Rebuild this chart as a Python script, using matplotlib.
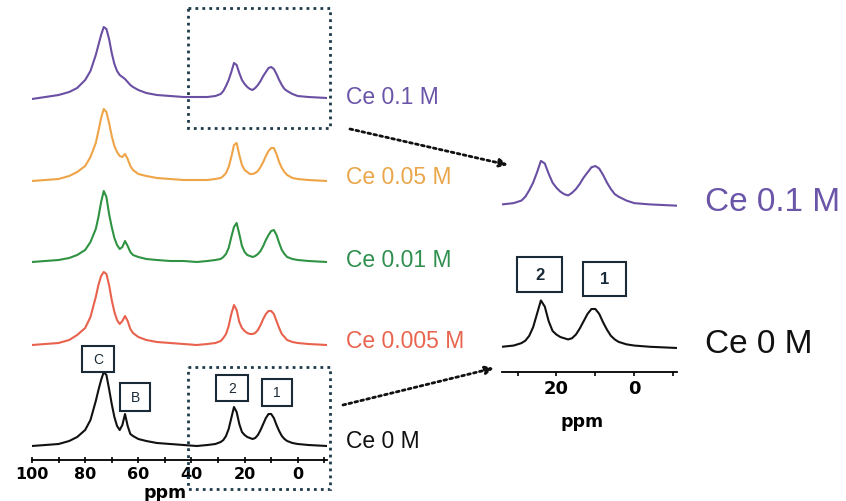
import numpy as np
import matplotlib
matplotlib.use('Agg')
import matplotlib.pyplot as plt
from matplotlib.patches import Rectangle

# chemical shift grid (ppm) shared by all spectra
ppm = [100, 95, 90, 86, 83, 80, 78, 76, 75, 74, 73, 72, 71, 70, 69, 68, 67, 66,
       65, 64, 63, 62, 60, 57, 53, 48, 43, 38, 34, 31, 29, 28, 27, 26, 25, 24,
       23, 22, 21, 20, 19, 18, 17, 16, 15, 14, 13, 12, 11, 10, 9, 8, 7, 6, 5,
       4, 2, 0, -4, -11]

# intensities (arbitrary units)
ce_0 = [0, 1, 2, 5, 9, 16, 26, 45, 56, 66, 74, 71, 57, 42, 29, 20, 16, 21,
        32, 20, 12, 10, 7, 5, 3, 2, 1, 0, 1, 2, 4, 6, 10, 17, 28, 39,
        34, 22, 14, 11, 9, 8, 7, 8, 11, 16, 22, 28, 32, 32, 28, 21, 15, 10, 7,
        5, 3, 2, 1, 0]
ce_0005 = [0, 1, 2, 5, 10, 17, 28, 48, 60, 69, 73, 71, 60, 45, 33, 25, 21, 24,
           29, 24, 16, 12, 8, 5, 3, 2, 1, 0, 1, 2, 4, 7, 11, 19, 31, 40,
           35, 23, 17, 14, 12, 11, 11, 12, 15, 20, 26, 31, 34, 34, 31, 24, 17, 11, 8,
           5, 3, 2, 1, 0]
ce_001 = [0, 1, 2, 4, 7, 12, 20, 33, 45, 60, 71, 65, 48, 35, 24, 17, 13, 15,
          21, 16, 10, 7, 5, 3, 2, 1, 1, 0, 1, 2, 3, 5, 8, 14, 25, 35,
          39, 28, 16, 10, 7, 6, 5, 6, 8, 11, 16, 22, 27, 31, 32, 27, 19, 12, 8,
          5, 3, 2, 1, 0]
ce_005 = [0, 1, 2, 5, 9, 15, 24, 38, 50, 63, 72, 69, 58, 45, 35, 29, 25, 24,
          27, 22, 15, 11, 7, 5, 3, 2, 1, 1, 1, 2, 3, 5, 8, 14, 24, 36,
          38, 26, 16, 11, 9, 7, 7, 8, 10, 14, 19, 25, 30, 33, 33, 27, 19, 13, 9,
          6, 3, 2, 1, 0]
ce_01 = [0, 2, 4, 7, 11, 19, 28, 44, 54, 64, 72, 70, 60, 46, 35, 28, 24, 22,
         20, 17, 14, 12, 9, 6, 4, 3, 2, 2, 2, 3, 5, 8, 13, 19, 27, 36,
         34, 26, 19, 15, 12, 10, 9, 11, 14, 18, 23, 27, 31, 32, 30, 25, 19, 14, 10,
         8, 5, 3, 2, 1]

labels = ['Ce 0.1 M', 'Ce 0.05 M', 'Ce 0.01 M', 'Ce 0.005 M', 'Ce 0 M']
series = [ce_01, ce_005, ce_001, ce_0005, ce_0]
colors = ['#6a4fa3', '#eea447', '#2f9343', '#e8624e', '#111111']
text_colors = ['#6a55a8', '#eaa64a', '#2f8f4f', '#e8644e', '#111111']
offsets = [361, 279, 198, 115, 14]
label_y = [97, 178, 261, 342, 442]

W, H = 846, 502
fig = plt.figure(figsize=(W / 100, H / 100), dpi=100)


def px_axes(x0, y_top, x1, y_bot):
    return fig.add_axes([x0 / W, 1 - y_bot / H, (x1 - x0) / W, (y_bot - y_top) / H])


# main stacked spectra
ax = px_axes(32, 0, 327, 461)
for s, c, off in zip(series, colors, offsets):
    ax.plot(ppm, np.array(s) + off, color=c, lw=1.5)
ax.set_xlim(100, -11)
ax.set_ylim(0, 461)
for sp in ['left', 'top', 'right']:
    ax.spines[sp].set_visible(False)
ax.spines['bottom'].set_linewidth(1.3)
ax.set_yticks([])
ax.set_xticks(np.arange(100, -11, -10))
ax.set_xticklabels(['100', '', '80', '', '60', '', '40', '', '20', '', '0', ''],
                   fontweight='bold', fontsize=11.5)
ax.tick_params(axis='x', direction='inout', length=4, width=1.2, pad=2)
ax.set_xlabel('ppm', fontweight='bold', fontsize=12.5)
ax.xaxis.set_label_coords((165 - 32) / 295, -32 / 461)
ax.xaxis.label.set_va('center')
ax.patch.set_alpha(0)

# zoomed insets
ax_p = px_axes(502, 150, 677, 215)
ax_p.plot(ppm, ce_01, color=colors[0], lw=1.5)
ax_p.set_xlim(34, -11)
ax_p.set_ylim(-5.5, 45.3)
ax_p.axis('off')

ax_k = px_axes(502, 290, 677, 373)
ax_k.plot(ppm, ce_0, color=colors[4], lw=1.5)
ax_k.set_xlim(34, -11)
ax_k.set_ylim(-19.7, 48.4)
for sp in ['left', 'top', 'right']:
    ax_k.spines[sp].set_visible(False)
ax_k.spines['bottom'].set_linewidth(1.3)
ax_k.set_yticks([])
ax_k.set_xticks([30, 20, 10, 0, -10])
ax_k.set_xticklabels(['', '20', '', '0', ''], fontweight='bold', fontsize=13)
ax_k.tick_params(axis='x', direction='out', length=3, width=1.2, pad=2)
ax_k.set_xlabel('ppm', fontweight='bold', fontsize=12.5)
ax_k.xaxis.set_label_coords((582 - 502) / 175, -(422 - 373) / 83)
ax_k.xaxis.label.set_va('center')
ax_k.patch.set_alpha(0)

# overlay in pixel coordinates for annotations
ov = fig.add_axes([0, 0, 1, 1], zorder=5)
ov.set_xlim(0, W)
ov.set_ylim(H, 0)
ov.axis('off')
ov.patch.set_alpha(0)

for lab, tc, y in zip(labels, text_colors, label_y):
    ov.text(346, y, lab, color=tc, fontsize=16.5, family='Liberation Sans',
            va='center', ha='left')
ov.text(705, 203, 'Ce 0.1 M', color=text_colors[0], fontsize=24,
        family='Liberation Sans', va='center', ha='left')
ov.text(705, 345, 'Ce 0 M', color=text_colors[4], fontsize=24,
        family='Liberation Sans', va='center', ha='left')

dot = dict(fill=False, ec='#1d3a4a', lw=2, ls=(0, (1, 1.5)))
ov.add_patch(Rectangle((188, 9), 142, 120, **dot))
ov.add_patch(Rectangle((188, 368), 142, 122, **dot))

arrow = dict(arrowstyle='-|>', color='#111111', lw=2, ls=(0, (1, 1.2)),
             mutation_scale=12, shrinkA=0, shrinkB=0)
ov.annotate('', xy=(508, 166), xytext=(350, 130), arrowprops=arrow)
ov.annotate('', xy=(494, 369), xytext=(343, 406), arrowprops=arrow)

boxes = [('C', 82, 347, 32, 26, 10, 'normal'),
         ('B', 120, 384, 30, 28, 10, 'normal'),
         ('2', 216, 376, 32, 26, 10, 'normal'),
         ('1', 262, 380, 30, 27, 10, 'normal'),
         ('2', 517, 258, 45, 35, 12, 'bold'),
         ('1', 583, 263, 43, 34, 12, 'bold')]
for t, x, y, w, h, fs, fw in boxes:
    ov.add_patch(Rectangle((x, y), w, h, fill=False, ec='#1a2a36', lw=1.5))
    ov.text(x + w / 2, y + h / 2, t, fontsize=fs, fontweight=fw, color='#1a2a36',
            family='Liberation Sans', ha='center', va='center')

fig.savefig('out.png', dpi=100)
